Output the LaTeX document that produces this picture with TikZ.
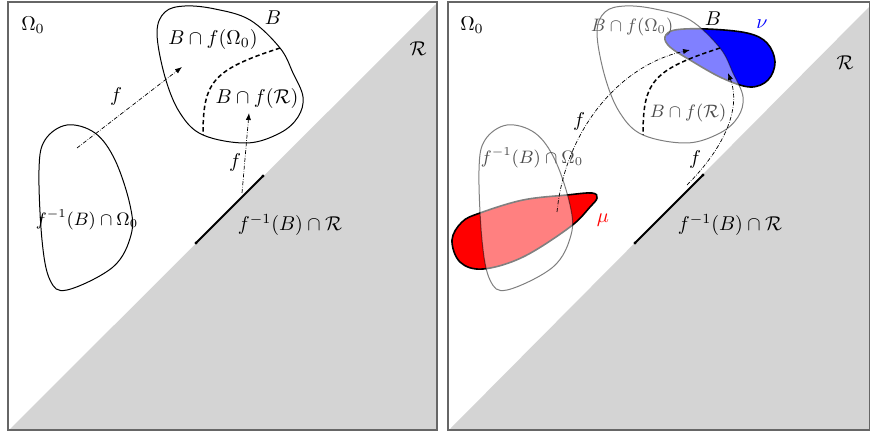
\documentclass[tikz,border=0pt]{standalone}
\usetikzlibrary{arrows.meta}
\begin{document}
\begin{tikzpicture}[x=0.5pt,y=-0.5pt,
  frame/.style={draw=black!60,line width=0.7pt},
  region/.style={fill=black!17},
  blob/.style={draw=black,line width=0.5pt},
  ghost/.style={draw=black,fill=white,draw opacity=0.5,fill opacity=0.5,line width=0.5pt},
  boundary/.style={dash pattern=on 2.2pt off 1.4pt,line width=0.75pt},
  maparrow/.style={line width=0.35pt,dash pattern=on 2pt off 0.8pt on 0.3pt off 0.8pt,-{Latex[length=3.5pt,width=2.6pt]}},
  seg/.style={line width=0.9pt},
  endpt/.style={fill=black},
  measure/.style={draw=black,line width=0.8pt},
  lbl/.style={inner sep=1pt},
  inlbl/.style={inner sep=1pt,font=\fontsize{8.6}{10}\selectfont},
]
\useasboundingbox (0,0) rectangle (870,432);

% ===== Left panel =====
\fill[region] (9,430) -- (437,3) -- (437,430) -- cycle;
\draw[frame] (8,2) rectangle (437,430);

\draw[blob] plot[smooth cycle,tension=0.6] coordinates {(157,33) (165,12) (185,6) (215,9) (250,20) (280,48) (293,73) (303,97) (298,117) (280,133) (247,143) (203,135) (180,113) (165,77)};
\draw[blob] plot[smooth cycle,tension=0.6] coordinates {(67,125) (95,133) (115,160) (130,205) (131,235) (113,267) (67,290) (50,280) (42,240) (39,170) (45,140)};
\draw[boundary] (280,48) .. controls (212,70) and (203,82) .. (203,135);

\coordinate (s1a) at (196,243);
\coordinate (s1b) at (263,176);
\draw[seg] (s1a) -- (s1b);
\fill[endpt] (s1a) circle[radius=0.8pt] (s1b) circle[radius=0.8pt];

\coordinate (a1s) at (77,148);
\coordinate (a1e) at (182,67);
\coordinate (a2s) at (242,193);
\coordinate (a2e) at (249,113);
\draw[maparrow] (a1s) -- (a1e);
\draw[maparrow] (a2s) -- (a2e);

\node[lbl] (om1) at (33,25) {$\Omega_0$};
\node[lbl] (R1) at (418,49) {$\mathcal{R}$};
\node[lbl] (B1) at (273,18) {$B$};
\node[lbl] (bf1) at (213,40) {$B\cap f(\Omega_0)$};
\node[lbl] (bfr1) at (257,99) {$B\cap f(\mathcal{R})$};
\node[inlbl] (pre1) at (87,220) {$f^{-1}(B)\cap\Omega_0$};
\node[lbl] (preR1) at (290,225) {$f^{-1}(B)\cap\mathcal{R}$};
\node[lbl] (f1a) at (116,97) {$f$};
\node[lbl] (f1b) at (235,163) {$f$};

% ===== Right panel =====
\fill[region] (449,430) -- (870,6) -- (870,430) -- cycle;
\draw[frame] (448,2) rectangle (869.6,430);

\draw[measure,fill=red] plot[smooth cycle,tension=0.6] coordinates {(452,240) (462,222) (480,213) (523,200) (567,195) (592,193) (597,198) (590,207) (570,227) (523,257) (483,269) (460,262)};
\draw[measure,fill=blue] plot[smooth cycle,tension=0.6] coordinates {(665,37) (675,30) (707,29) (747,33) (767,43) (775,62) (768,80) (750,87) (722,78) (690,60) (670,47)};

\begin{scope}[shift={(440,0)}]
\draw[ghost] plot[smooth cycle,tension=0.6] coordinates {(157,33) (165,12) (185,6) (215,9) (250,20) (280,48) (293,73) (303,97) (298,117) (280,133) (247,143) (203,135) (180,113) (165,77)};
\draw[ghost] plot[smooth cycle,tension=0.6] coordinates {(67,125) (95,133) (115,160) (130,205) (131,235) (113,267) (67,290) (50,280) (42,240) (39,170) (45,140)};
\draw[boundary] (280,48) .. controls (212,70) and (203,82) .. (203,135);
\end{scope}

\coordinate (s2a) at (635,243);
\coordinate (s2b) at (703,175);
\draw[seg] (s2a) -- (s2b);
\fill[endpt] (s2a) circle[radius=0.8pt] (s2b) circle[radius=0.8pt];

\coordinate (b1s) at (557,212);
\coordinate (b1e) at (690,50);
\coordinate (b2s) at (687,185);
\coordinate (b2e) at (728,73);
\draw[maparrow] (b1s) .. controls (565,130) and (620,65) .. (b1e);
\draw[maparrow] (b2s) .. controls (722,150) and (742,110) .. (b2e);

\node[lbl] (om2) at (472,25) {$\Omega_0$};
\node[lbl] (R2) at (845,63) {$\mathcal{R}$};
\node[lbl] (B2) at (713,19) {$B$};
\node[lbl,text=blue] (nu) at (762,24) {$\nu$};
\node[lbl,text=red] (mu) at (603,220) {$\mu$};
\node[inlbl,text=black!65] (bf2) at (632,27) {$B\cap f(\Omega_0)$};
\node[inlbl,text=black!70] (bfr2) at (688,113) {$B\cap f(\mathcal{R})$};
\node[inlbl,text=black!70] (pre2) at (532,158) {$f^{-1}(B)\cap\Omega_0$};
\node[lbl] (preR2) at (730,225) {$f^{-1}(B)\cap\mathcal{R}$};
\node[lbl] (f2a) at (579,122) {$f$};
\node[lbl] (f2b) at (695,160) {$f$};
\end{tikzpicture}
\end{document}
